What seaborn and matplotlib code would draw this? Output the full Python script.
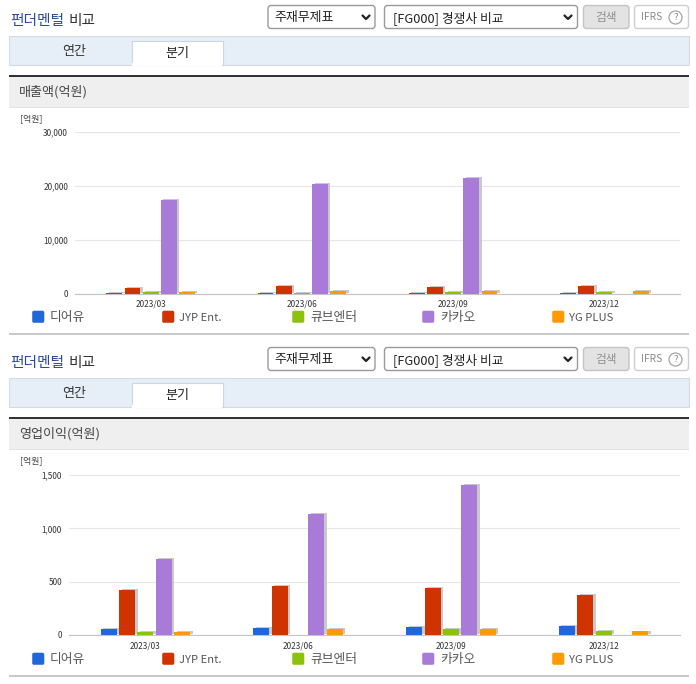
import numpy as np
import pandas as pd
import matplotlib
matplotlib.use("Agg")
import matplotlib.pyplot as plt
import matplotlib.patheffects as pe
from matplotlib.patches import Rectangle, FancyBboxPatch, Circle
from matplotlib.ticker import FuncFormatter
import seaborn as sns

sns.set_theme(style="white")
plt.rcParams['font.family'] = ['Noto Sans CJK KR', 'DejaVu Sans']

quarters = ["2023/03", "2023/06", "2023/09", "2023/12"]
companies = ["디어유", "JYP Ent.", "큐브엔터", "카카오", "YG PLUS"]
colors = ["#2167DC", "#CF3400", "#8CC20E", "#A87BD9", "#FF9A03"]

revenue_dearu = [60, 70, 80, 90]
revenue_jyp = [1060, 1430, 1240, 1450]
revenue_cube = [220, 30, 220, 220]
revenue_kakao = [17400, 20400, 21500, np.nan]
revenue_yg = [270, 470, 400, 500]

profit_dearu = [55, 62, 72, 85]
profit_jyp = [425, 460, 440, 375]
profit_cube = [27, 3, 55, 35]
profit_kakao = [711, 1135, 1403, np.nan]
profit_yg = [28, 52, 52, 33]

W, H = 696, 684
fig = plt.figure(figsize=(W / 100, H / 100), dpi=100, facecolor="white")
ui = fig.add_axes([0, 0, 1, 1], zorder=0)
ui.set_xlim(0, W); ui.set_ylim(H, 0); ui.axis("off")


def rect(x0, y0, x1, y1, fc, ec="none", lw=0.0):
    ui.add_patch(Rectangle((x0, y0), x1 - x0, y1 - y0, fc=fc, ec=ec, lw=lw))


def rbox(x0, y0, x1, y1, fc, ec, r=3, lw=1.0):
    ui.add_patch(FancyBboxPatch((x0 + r, y0 + r), x1 - x0 - 2 * r, y1 - y0 - 2 * r,
                                boxstyle=f"round,pad={r},rounding_size={r}",
                                fc=fc, ec=ec, lw=lw, mutation_aspect=1))


def txt(x, y, s, size, color="#333333", ha="left", va="center", **kw):
    ui.text(x, y, s, fontsize=size, color=color, ha=ha, va=va, **kw)


def chevron(x, y):
    ui.plot([x - 3.5, x, x + 3.5], [y - 1.5, y + 2, y - 1.5], color="#222222", lw=1.6)


def section(dy, title, unit_label, chart_vals, ymax, yticks, ax_x0):
    # Header
    txt(10, 21 + dy, "펀더멘털", 10.6, color="#2B4C9B", fontweight="medium")
    txt(69, 21 + dy, "비교", 10.6, color="#333333", fontweight="medium")
    rbox(268, 5.5 + dy, 375, 28.5 + dy, "white", "#9a9a9a")
    txt(274, 18 + dy, "주재무제표", 9.3, color="#222222")
    chevron(366, 17 + dy)
    rbox(384.5, 5.5 + dy, 577.5, 28.5 + dy, "white", "#9a9a9a")
    txt(393, 18 + dy, "[FG000] 경쟁사 비교", 9.2, color="#222222")
    chevron(568, 17 + dy)
    rbox(583.5, 5.5 + dy, 629, 28.5 + dy, "#e3e3e3", "#c4c4c4")
    txt(606.5, 17 + dy, "검색", 8.4, color="#8f8f8f", ha="center")
    rbox(634.5, 5.5 + dy, 688.5, 28.5 + dy, "white", "#cfcfcf")
    txt(641, 17 + dy, "IFRS", 7.4, color="#8a8a8a")
    ui.add_patch(Circle((675.5, 17.5 + dy), 6.5, fc="white", ec="#a5a5a5", lw=0.9))
    txt(675.5, 17.5 + dy, "?", 6.8, color="#888888", ha="center")
    # Tabs
    rect(9, 35.5 + dy, 689, 64.5 + dy, "#E6EEF7", "#d4dbe3", 0.8)
    rect(131.5, 40.5 + dy, 222.5, 65 + dy, "white", "#ced6df", 0.8)
    rect(132, 63 + dy, 222, 66 + dy, "white")
    txt(74, 52 + dy, "연간", 9.4, ha="center")
    txt(177, 53 + dy, "분기", 9.4, ha="center", color="#222222")
    # Panel heading
    rect(9, 75 + dy, 689, 77 + dy, "#333333")
    rect(9, 77 + dy, 689, 107 + dy, "#EFEFEF")
    rect(9, 107 + dy, 689, 108 + dy, "#e2e2e2")
    txt(19, 92 + dy, title, 9.4, color="#444444")
    txt(20, 119 + dy, unit_label, 6.4, color="#444444")
    # Chart
    ax_top, ax_bot = 132 + dy + (1 if dy else 0), 293.5 + dy - (0.5 if dy else 0)
    ax = fig.add_axes([ax_x0 / W, 1 - ax_bot / H, (680 - ax_x0) / W, (ax_bot - ax_top) / H], zorder=2)
    ax.patch.set_alpha(0)
    df = pd.DataFrame(chart_vals, index=quarters, columns=companies).rename_axis("q").reset_index()
    long = df.melt(id_vars="q", var_name="company", value_name="value")
    sns.barplot(data=long, x="q", y="value", hue="company", hue_order=companies,
                palette=colors, width=0.6, gap=0.13, saturation=1, legend=False, ax=ax,
                zorder=3, linewidth=0)
    shadow = [pe.SimplePatchShadow(offset=(1.8, 0.7), shadow_rgbFace="#c4c4c4", alpha=0.9), pe.Normal()]
    for p in ax.patches:
        p.set_edgecolor("none")
        p.set_path_effects(shadow)
    ax.set_xlim(-0.5, 3.5)
    ax.set_ylim(0, ymax)
    ax.set_yticks(yticks)
    ax.yaxis.set_major_formatter(FuncFormatter(lambda v, _: f"{int(v):,}"))
    ax.set_xlabel(""); ax.set_ylabel("")
    ax.grid(axis="y", color="#e6e6e6", lw=0.8, zorder=0)
    ax.set_axisbelow(True)
    for s in ("top", "right", "left"):
        ax.spines[s].set_visible(False)
    ax.spines["bottom"].set_color("#c4c4c4")
    ax.spines["bottom"].set_linewidth(0.8)
    ax.tick_params(axis="y", length=0, labelsize=5.9, labelcolor="#333333", pad=5)
    ax.set_xticks(np.arange(4))
    ax.set_xticklabels(quarters)
    ax.tick_params(axis="x", length=0, labelsize=5.9, labelcolor="#333333", pad=4.5)
    ax.set_xticks(np.arange(5) - 0.5, minor=True)
    ax.tick_params(axis="x", which="minor", length=3.5, width=0.7, color="#c4c4c4")
    # Legend
    for i, (name, c) in enumerate(zip(companies, colors)):
        x = 32.5 + 130 * i
        rbox(x, 311 + dy, x + 11.5, 322.5 + dy, c, c, r=1.5, lw=0.4)
        latin = name.isascii()
        txt(x + (16.5 if latin else 17.5), 321 + dy, name,
            8.1 if latin else 9.2, color="#555555", va="baseline")
    rect(9, 332.5 + dy, 689, 334.5 + dy, "#c9c9c9")


section(0, "매출액(억원)", "[억원]",
        np.array([revenue_dearu, revenue_jyp, revenue_cube, revenue_kakao, revenue_yg]).T,
        30000, [0, 10000, 20000, 30000], 75)
section(342, "영업이익(억원)", "[억원]",
        np.array([profit_dearu, profit_jyp, profit_cube, profit_kakao, profit_yg]).T,
        1500, [0, 500, 1000, 1500], 69)

fig.savefig("out.png", dpi=100)
